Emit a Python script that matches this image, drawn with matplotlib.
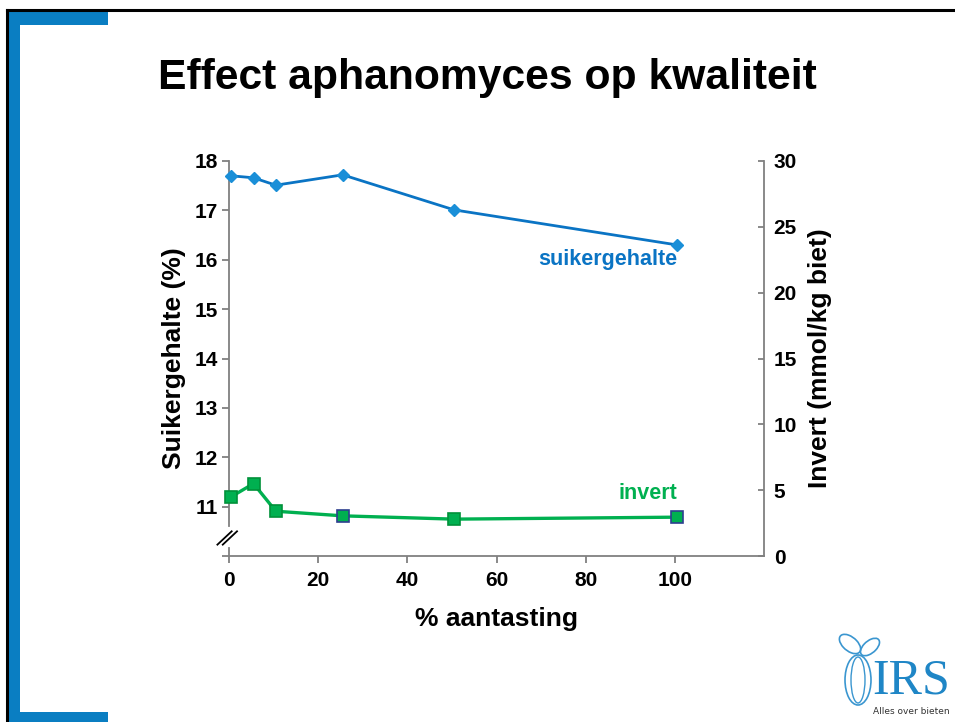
import matplotlib
matplotlib.use("Agg")
import matplotlib.pyplot as plt
from matplotlib.lines import Line2D
from matplotlib.patches import Rectangle, Ellipse

# ---- data ----
aantasting = [0.5, 5.5, 10.5, 25.5, 50.5, 100.5]
suikergehalte = [17.70, 17.66, 17.51, 17.72, 17.01, 16.30]
invert = [4.5, 5.5, 3.4, 3.05, 2.8, 2.95]
invert_edge = ["#00913a", "#00913a", "#00913a", "#2e3f8f", "#00913a", "#2e3f8f"]
x_ticks = [0, 20, 40, 60, 80, 100]
left_ticks = [10, 11, 12, 13, 14, 15, 16, 17, 18]
left_ticklabels = ["", "11", "12", "13", "14", "15", "16", "17", "18"]
right_ticks = [0, 5, 10, 15, 20, 25, 30]

plt.rcParams['font.family'] = ['Liberation Sans', 'DejaVu Sans']
BLUE = "#0a74c4"
GREEN = "#00b050"
GREY = "#808080"

fig = plt.figure(figsize=(9.55, 7.22), dpi=100)

# slide decoration
W, H = 955, 722
def fx(px): return px / W
def fy(py): return 1 - py / H
fig.add_artist(Line2D([fx(7), fx(955)], [fy(10), fy(10)], color="black", lw=2.2, transform=fig.transFigure))
fig.add_artist(Line2D([fx(7), fx(7)], [fy(10), fy(722)], color="black", lw=2.2, transform=fig.transFigure))
blue_dec = "#0a7ec2"
fig.add_artist(Rectangle((fx(8), fy(722)), fx(12), 710 / H, color=blue_dec, transform=fig.transFigure, lw=0))
fig.add_artist(Rectangle((fx(8), fy(25)), fx(100), 14 / H, color=blue_dec, transform=fig.transFigure, lw=0))
fig.add_artist(Rectangle((fx(8), fy(722)), fx(100), 10 / H, color=blue_dec, transform=fig.transFigure, lw=0))

fig.text(fx(487), fy(78), "Effect aphanomyces op kwaliteit", ha="center", va="center",
         fontsize=30.7, fontweight="bold")

ax = fig.add_axes([229 / W, 1 - 556 / H, (764 - 229) / W, (556 - 161) / H])
ax2 = ax.twinx()

ax.plot(aantasting, suikergehalte, color=BLUE, lw=2.0, marker="D", markersize=6,
        markerfacecolor="#1a8fd8", markeredgecolor="#1a8fd8", clip_on=False, zorder=3)
ax2.plot(aantasting, invert, color=GREEN, lw=2.4, zorder=2, clip_on=False)
for xv, yv, ec in zip(aantasting, invert, invert_edge):
    ax2.plot([xv], [yv], marker="s", markersize=9, markerfacecolor=GREEN,
             markeredgecolor=ec, markeredgewidth=1.2, zorder=3, clip_on=False, ls="none")

ax.set_xlim(0, 120)
ax.set_ylim(10, 18)
ax2.set_ylim(0, 30)
ax.set_xticks(x_ticks)
ax.set_yticks(left_ticks)
ax.set_yticklabels(left_ticklabels)
ax2.set_yticks(right_ticks)

for a in (ax, ax2):
    a.spines["top"].set_visible(False)
    for s in a.spines.values():
        s.set_color(GREY)
        s.set_linewidth(1.3)
ax2.spines["left"].set_visible(False)
ax2.spines["bottom"].set_visible(False)
ax.spines["right"].set_visible(False)
ax.spines["left"].set_bounds(10.6, 18)
ax.plot([0, 0], [10, 10.17], color=GREY, lw=1.3, clip_on=False, transform=ax.transData)

# axis break marks
for dx in (-1.2, 0.0):
    ax.plot([dx - 1.4, dx + 1.8], [10.23, 10.5], color="black", lw=1.3, clip_on=False)

ax.tick_params(axis="both", colors=GREY, labelcolor="black", labelsize=15, width=1.3, length=5)
ax.tick_params(axis="x", pad=6)
ax.tick_params(axis="y", pad=3)
ax2.tick_params(axis="y", colors=GREY, labelcolor="black", labelsize=15, width=1.3,
                length=4, direction="in", pad=7)
for lab in ax.get_xticklabels() + ax.get_yticklabels() + ax2.get_yticklabels():
    lab.set_fontweight("bold")

ax.set_xlabel("% aantasting", fontsize=19, fontweight="bold", labelpad=12)
ax.set_ylabel("Suikergehalte (%)", fontsize=19, fontweight="bold", labelpad=6)
ax2.set_ylabel("Invert (mmol/kg biet)", fontsize=19, fontweight="bold", labelpad=8)

ax.text(100.5, 16.0, "suikergehalte", color=BLUE, fontsize=15.5, fontweight="bold",
        ha="right", va="center")
ax2.text(100.5, 4.75, "invert", color=GREEN, fontsize=15.5, fontweight="bold",
         ha="right", va="center")

# IRS logo
LB = "#3a96d0"
fig.text(fx(950), fy(704), "IRS", ha="right", va="bottom", fontsize=36,
         family="Liberation Serif", color="#1f86c6")
fig.text(fx(950), fy(714), "Alles over bieten", ha="right", va="baseline",
         fontsize=6.5, family="Liberation Sans Narrow", color="#333333")
fig.add_artist(Ellipse((fx(858), fy(680)), fx(26), 50 / H, fill=False, ec=LB, lw=1.2,
                       transform=fig.transFigure))
fig.add_artist(Ellipse((fx(858), fy(680)), fx(14), 46 / H, fill=False, ec=LB, lw=1.0,
                       transform=fig.transFigure))
fig.add_artist(Ellipse((fx(850), fy(644)), fx(16), 22 / H, angle=35, fill=False, ec=LB, lw=1.2,
                       transform=fig.transFigure))
fig.add_artist(Ellipse((fx(870), fy(647)), fx(14), 20 / H, angle=-35, fill=False, ec=LB, lw=1.2,
                       transform=fig.transFigure))

fig.savefig("out.png", dpi=100)
